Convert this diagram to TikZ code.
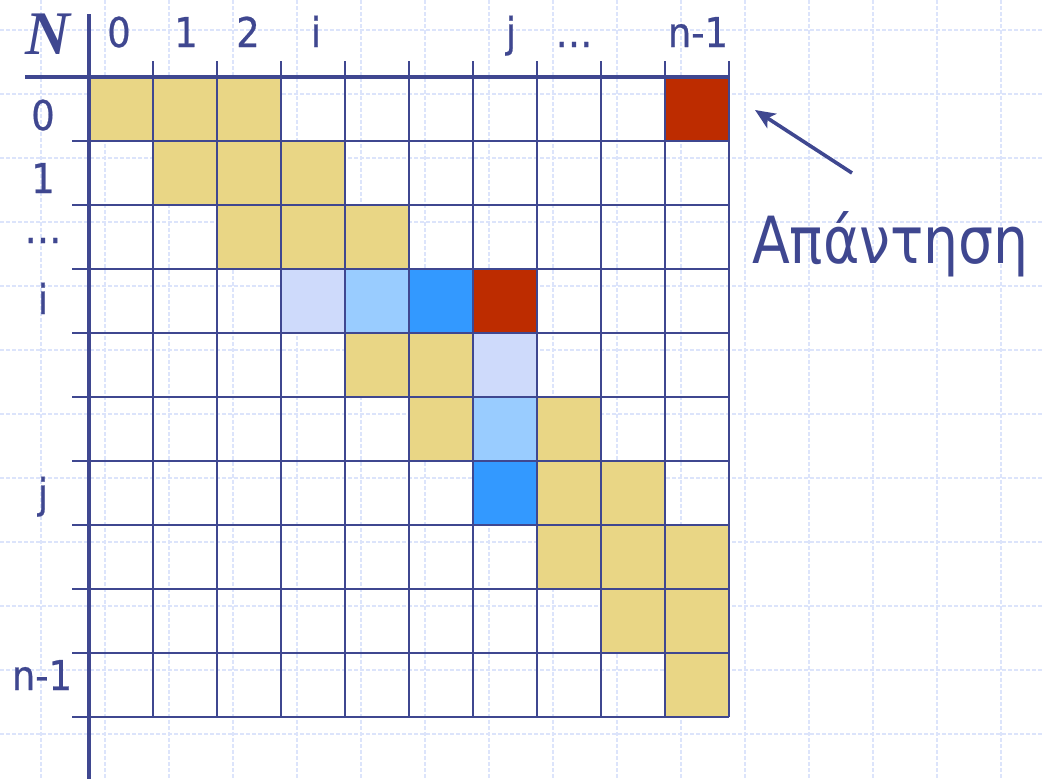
\documentclass[tikz,border=0pt]{standalone}
\usepackage{fontspec}
\usetikzlibrary{arrows.meta}
\newfontfamily\lblfont[FakeStretch=0.9,FakeBold=0.6]{DejaVu Sans}
\newfontfamily\grfont[FakeStretch=0.85]{DejaVu Sans}
\newfontfamily\nfont{Liberation Serif}
\definecolor{ink}{HTML}{3F4790}
\definecolor{bggrid}{HTML}{DCE4FB}
\definecolor{cellY}{HTML}{E9D685}
\definecolor{cellR}{HTML}{BD2C00}
\definecolor{cellL}{HTML}{CEDAFB}
\definecolor{cellS}{HTML}{99CCFF}
\definecolor{cellB}{HTML}{3399FF}
\tikzset{
  bgline/.style={draw=bggrid, line width=1.3pt, dash pattern=on 4pt off 2pt},
  gridline/.style={draw=ink, line width=2.4pt},
  axisline/.style={draw=ink, line width=4pt},
  lbl/.style={text=ink, font=\lblfont\fontsize{41}{41}\selectfont, anchor=base, inner sep=0pt},
  pointer/.style={draw=ink, line width=3.6pt, -{Stealth[length=20pt,width=17pt,inset=5pt]}},
}
\begin{document}
\begin{tikzpicture}[x=1pt,y=-1pt]
\useasboundingbox (0,0) rectangle (1042,779);
\fill[white] (0,0) rectangle (1042,779);
% light dashed background grid
\foreach \k in {0,...,15} \draw[bgline] (41+64*\k,0) -- (41+64*\k,779);
\foreach \k in {0,...,11} \draw[bgline] (0,30+64*\k) -- (1042,30+64*\k);
% coloured cells: row/column/colour
\foreach \r/\c/\col in {
  0/0/cellY,0/1/cellY,0/2/cellY,0/9/cellR,
  1/1/cellY,1/2/cellY,1/3/cellY,
  2/2/cellY,2/3/cellY,2/4/cellY,
  3/3/cellL,3/4/cellS,3/5/cellB,3/6/cellR,
  4/4/cellY,4/5/cellY,4/6/cellL,
  5/5/cellY,5/6/cellS,5/7/cellY,
  6/6/cellB,6/7/cellY,6/8/cellY,
  7/7/cellY,7/8/cellY,7/9/cellY,
  8/8/cellY,8/9/cellY,
  9/9/cellY}
  \fill[\col] (89+64*\c,77+64*\r) rectangle ++(64,64);
% table lines
\foreach \k in {1,...,10} \draw[gridline] (89+64*\k,61) -- (89+64*\k,717);
\foreach \k in {1,...,10} \draw[gridline] (72,77+64*\k) -- (729,77+64*\k);
\draw[axisline] (25,77) -- (729,77);
\draw[axisline] (89,14) -- (89,779);
% corner symbol
\node[text=ink, font=\nfont\bfseries\itshape\fontsize{62}{62}\selectfont, inner sep=0pt] (N) at (48,34) {N};
% column labels
\node[lbl] (c0) at (119,47) {0};
\node[lbl] (c1) at (186,47) {1};
\node[lbl] (c2) at (248,47) {2};
\node[lbl] (ci) at (316,47) {i};
\node[lbl] (cj) at (511,47) {j};
\node[lbl] (cd) at (574,47) {…};
\node[lbl] (cn) at (698,47) {n-1};
% row labels
\node[lbl] (r0) at (43,130) {0};
\node[lbl] (r1) at (43,193) {1};
\node[lbl] (rd) at (43,243) {…};
\node[lbl] (ri) at (43,314) {i};
\node[lbl] (rj) at (43,508) {j};
\node[lbl] (rn) at (42,690) {n-1};
% answer note
\node[text=ink, font=\grfont\fontsize{65}{65}\selectfont, anchor=base west, inner sep=0pt] (ans) at (752,263) {Απάντηση};
\coordinate (tail) at (852,173);
\coordinate (tip) at (755,110);
\draw[pointer] (tail) -- (tip);
\end{tikzpicture}
\end{document}
